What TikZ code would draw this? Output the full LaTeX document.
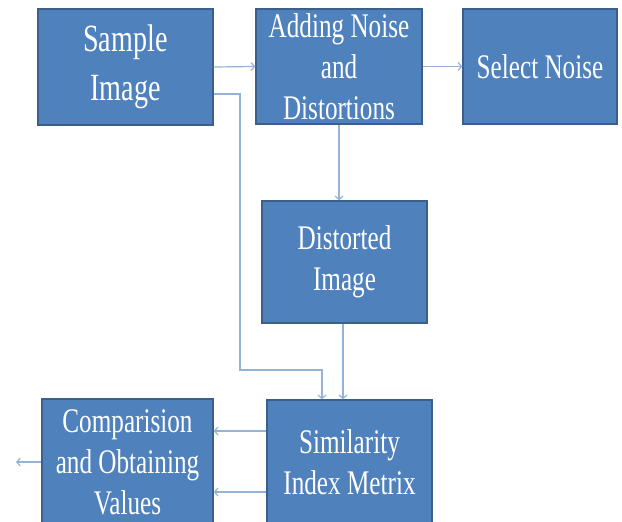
\documentclass[tikz,border=0pt]{standalone}
\usepackage{fontspec}
\setmainfont{Liberation Serif}[FakeStretch=0.73]
\usetikzlibrary{arrows.meta}
\definecolor{boxfill}{HTML}{4F81BD}
\definecolor{boxline}{HTML}{3A5F8B}
\definecolor{connline}{HTML}{95B3D7}
\tikzset{
  block/.style={draw=boxline, line width=1.4pt, fill=boxfill, text=white,
    align=center, inner sep=2pt, font=\fontsize{34.5}{41}\selectfont},
  conn/.style={draw=connline, line width=1.2pt,
    -{Straight Barb[length=3.5pt,width=8pt]}},
}
\begin{document}
\begin{tikzpicture}[x=1pt,y=-1pt]
\clip (0,0) rectangle (622,522);
\fill[white] (0,0) rectangle (622,522);
\node[block, minimum width=175pt, minimum height=116pt,
      font=\fontsize{38.5}{49}\selectfont] (sample) at (125.5,67) {Sample\\Image};
\node[block, minimum width=166pt, minimum height=115pt] (adding) at (339,66.5) {Adding Noise\\and\\Distortions};
\node[block, minimum width=154pt, minimum height=115pt] (select) at (540,66.5) {Select Noise};
\node[block, minimum width=165pt, minimum height=122pt] (distorted) at (344.5,262) {Distorted\\Image};
\node[block, minimum width=171pt, minimum height=126pt] (compare) at (127.5,462) {Comparision\\and Obtaining\\Values};
\node[block, minimum width=165pt, minimum height=124pt] (similar) at (349.5,462) {Similarity\\Index Metrix};
\coordinate (bend) at (240,370);
\coordinate (out) at (16,462);
\draw[conn] (sample.east) -- (adding.west);
\draw[conn] (adding.east) -- (select.west);
\draw[conn] (adding.south) -- (adding.south |- distorted.north);
\draw[conn] ([xshift=-1.5pt]distorted.south) -- ([xshift=-1.5pt]distorted.south |- similar.north);
\draw[conn] ([yshift=-27pt]sample.east) -| (bend) -| ([xshift=-27.5pt]similar.north);
\draw[conn] ([yshift=31pt]similar.west) -- ([yshift=31pt]similar.west -| compare.east);
\draw[conn] ([yshift=-30pt]similar.west) -- ([yshift=-30pt]similar.west -| compare.east);
\draw[conn] (compare.west) -- (out);
\end{tikzpicture}
\end{document}
